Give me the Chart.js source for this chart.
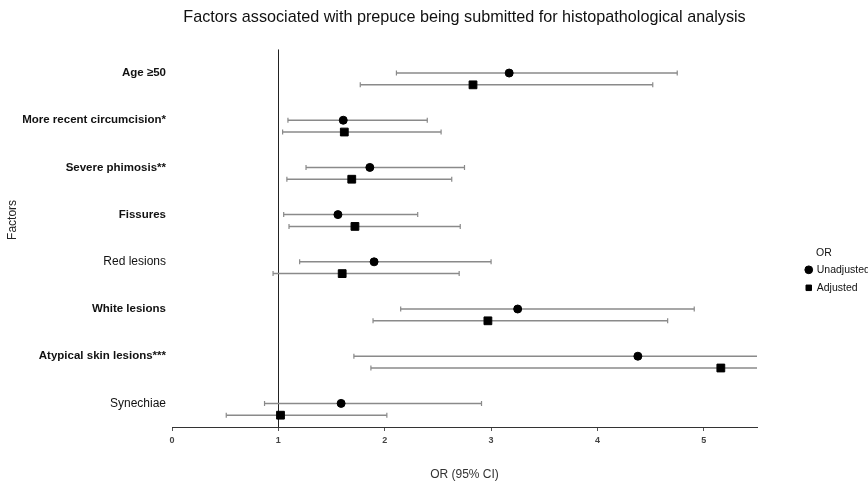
<!DOCTYPE html>
<html>
<head>
<meta charset="utf-8">
<script src="https://cdn.jsdelivr.net/npm/chart.js@4.4.0/dist/chart.umd.min.js"></script>
<style>
  html, body { margin: 0; padding: 0; background: #fff; }
</style>
</head>
<body>
<canvas id="forest" width="868" height="483"></canvas>
<script>
// rows, top to bottom
const factors = ['Age ≥50', 'More recent circumcision*', 'Severe phimosis**', 'Fissures',
                 'Red lesions', 'White lesions', 'Atypical skin lesions***', 'Synechiae'];
const boldFactor = [true, true, true, true, false, true, true, false];

// odds ratios and 95% CI
const unadjOR = [3.17, 1.61, 1.86, 1.56, 1.90, 3.25, 4.38, 1.59];
const unadjLo = [2.11, 1.09, 1.26, 1.05, 1.20, 2.15, 1.71, 0.87];
const unadjHi = [4.75, 2.40, 2.75, 2.31, 3.00, 4.91, 11.2, 2.91];
const adjOR   = [2.83, 1.62, 1.69, 1.72, 1.60, 2.97, 5.16, 1.02];
const adjLo   = [1.77, 1.04, 1.08, 1.10, 0.95, 1.89, 1.87, 0.51];
const adjHi   = [4.52, 2.53, 2.63, 2.71, 2.70, 4.66, 14.3, 2.02];

const xTicks = [0, 1, 2, 3, 4, 5];
const adjOffset = 0.25; // adjusted row sits just under the unadjusted one

const FONT = '"Liberation Sans", Arial, Helvetica, sans-serif';
Chart.defaults.font.family = FONT;
Chart.defaults.color = '#111';

// one line per row, broken by an empty point between rows
function ciData(lo, hi, off) {
    const out = [];
    lo.forEach((l, i) => {
        out.push({ x: l, y: i + off }, { x: hi[i], y: i + off }, { x: null, y: null });
    });
    return out;
}

const ciStyle = {
    type: 'scatter', showLine: true, spanGaps: false, fill: false,
    borderColor: '#8a8a8a', borderWidth: 1.5,
    pointStyle: 'line', rotation: 90, pointRadius: 2.5,
    pointBorderColor: '#8a8a8a', pointBorderWidth: 1.2,
    xAxisID: 'x', yAxisID: 'y',
};

new Chart(document.getElementById('forest'), {
    type: 'scatter',
    data: {
        datasets: [{
            label: 'Unadjusted',
            data: unadjOR.map((v, i) => ({ x: v, y: i })),
            pointStyle: 'circle', pointRadius: 4,
            backgroundColor: '#000', borderColor: '#000', borderWidth: 1,
            xAxisID: 'x', yAxisID: 'y', order: 0,
        }, {
            label: 'Adjusted',
            data: adjOR.map((v, i) => ({ x: v, y: i + adjOffset })),
            pointStyle: 'rect', pointRadius: 5.5,
            backgroundColor: '#000', borderColor: '#000', borderWidth: 1,
            xAxisID: 'x', yAxisID: 'y', order: 0,
        }, {
            ...ciStyle, label: 'Unadjusted CI', data: ciData(unadjLo, unadjHi, 0), order: 5,
        }, {
            ...ciStyle, label: 'Adjusted CI', data: ciData(adjLo, adjHi, adjOffset), order: 5,
        }]
    },
    options: {
        responsive: false,
        animation: false,
        events: [],
        layout: { padding: 0 },
        scales: {
            x: {
                type: 'linear', min: 0, max: 5.5,
                afterBuildTicks: s => { s.ticks = xTicks.map(v => ({ value: v })); },
                ticks: { font: { size: 9, weight: 'bold' }, color: '#444', padding: 4 },
                grid: {
                    color: ctx => (ctx.tick && ctx.tick.value === 1) ? '#222' : 'rgba(0,0,0,0)',
                    tickColor: '#555', tickLength: 4, lineWidth: 1,
                },
                border: { display: true, color: '#333', width: 1 },
                title: { display: true, text: 'OR (95% CI)', font: { size: 12 }, color: '#333', padding: { top: 0, bottom: 1 } },
                afterFit: s => { s.height = 56; }
            },
            y: {
                type: 'linear', reverse: true, min: -0.5, max: 7.5,
                afterBuildTicks: s => { s.ticks = factors.map((_, i) => ({ value: i })); },
                ticks: {
                    callback: v => factors[v],
                    font: ctx => ({ family: FONT, size: boldFactor[ctx.index] ? 11.5 : 12, weight: boldFactor[ctx.index] ? 'bold' : 'normal' }),
                    color: '#111', padding: -2,
                },
                grid: { display: false },
                border: { display: false },
                title: { display: true, text: '           Factors', font: { size: 12 }, color: '#222', padding: { top: 5 } },
                afterFit: s => { s.width = 172; }
            },
            // spacer between the plot and the legend
            pad: {
                type: 'linear', position: 'right', display: true,
                ticks: { display: false }, grid: { display: false }, border: { display: false },
                afterFit: s => { s.width = 41.5; }
            }
        },
        plugins: {
            title: {
                display: true, fullSize: false,
                text: 'Factors associated with prepuce being submitted for histopathological analysis',
                font: { size: 16.2, weight: 'normal' }, color: '#111',
                padding: { top: 8, bottom: 22 }
            },
            legend: {
                position: 'right', align: 'center', maxWidth: 69.5,
                title: { display: true, text: '      OR', position: 'start', font: { size: 10.5 }, color: '#111', padding: { top: 65, bottom: -3 } },
                labels: {
                    usePointStyle: true, boxWidth: 5.5, boxHeight: 5.5,
                    font: { size: 10.5 }, color: '#111', padding: 7.5,
                    filter: item => item.datasetIndex < 2
                }
            },
            tooltip: { enabled: false }
        }
    }
});
</script>
</body>
</html>
